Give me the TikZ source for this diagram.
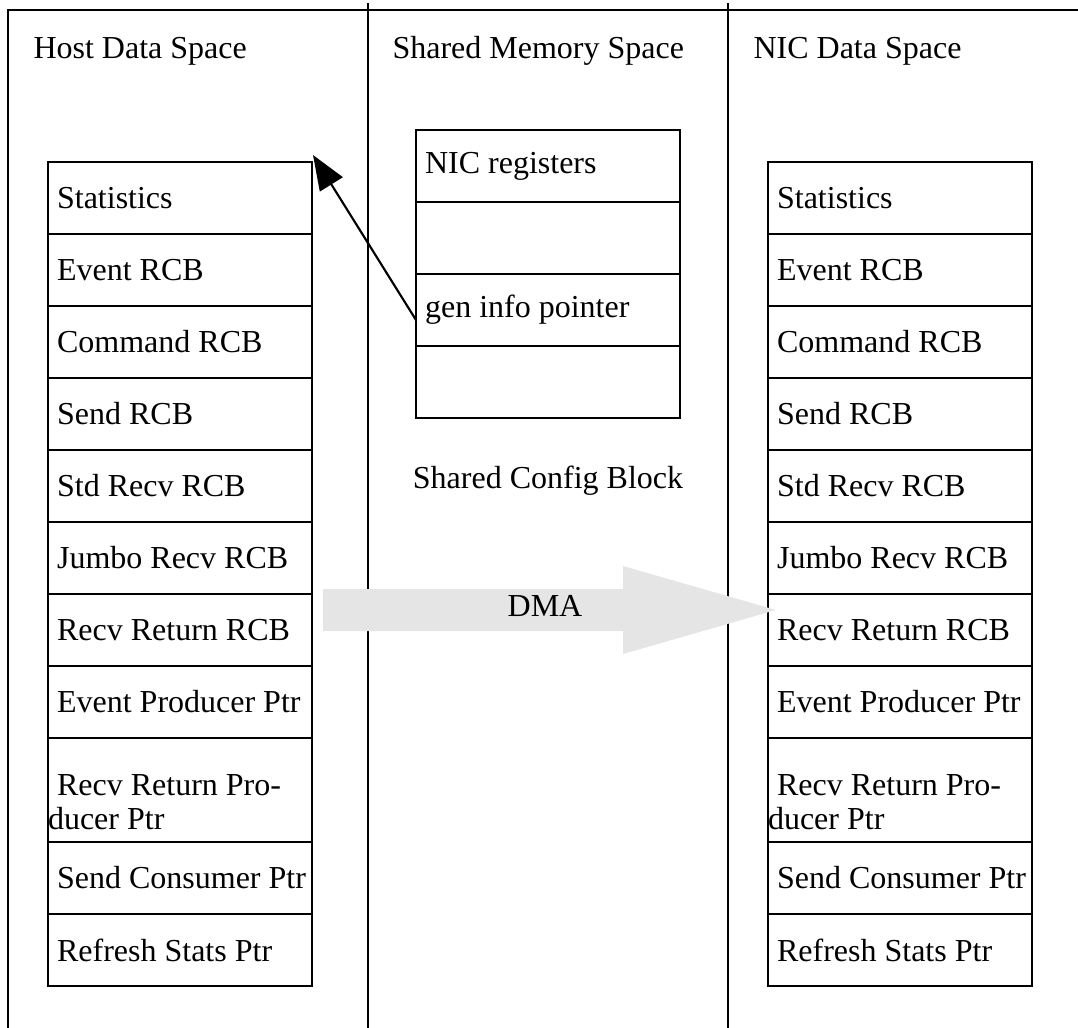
\documentclass[tikz,border=0pt]{standalone}
\usepackage{fontspec}
\setmainfont{Liberation Serif}
\usepackage{xcolor}
\usetikzlibrary{positioning}
\usetikzlibrary{arrows.meta}

\definecolor{dmagray}{gray}{0.898}

\tikzset{
  cell/.style={draw, line width=0.9pt, outer sep=0pt, inner xsep=0pt,
    minimum width=99pt, minimum height=27pt, text width=99pt, align=left,
    execute at begin node={\spaceskip=0pt\xspaceskip=0pt\hspace*{3.4pt}}},
  tallcell/.style={cell, minimum height=39pt},
  title/.style={anchor=base west, inner sep=0pt},
  wall/.style={line width=0.9pt}
}

\begin{document}
\begin{tikzpicture}[x=0.375pt, y=-0.375pt, node distance=0pt,
    every node/.style={font=\fontsize{12pt}{13pt}\selectfont}]

  \useasboundingbox (0,0) rectangle (1078,1028);

  % Frame and dividers
  \draw[wall] (8,1028) -- (8,10) -- (1078,10);
  \draw[wall] (368,3) -- (368,1028);
  \draw[wall] (728,3) -- (728,1028);

  % Titles
  \node[title] (thost) at (33,58)  {Host Data Space};
  \node[title] (tshm)  at (392,58) {Shared Memory Space};
  \node[title] (tnic)  at (753,58) {NIC Data Space};

  % Host data space
  \node[cell, anchor=north west] (hstat) at (48,162) {Statistics};
  \node[cell, below=of hstat]   (hevt)   {Event RCB};
  \node[cell, below=of hevt]    (hcmd)   {Command RCB};
  \node[cell, below=of hcmd]    (hsend)  {Send RCB};
  \node[cell, below=of hsend]   (hstd)   {Std Recv RCB};
  \node[cell, below=of hstd]    (hjumbo) {Jumbo Recv RCB};
  \node[cell, below=of hjumbo]  (hrret)  {Recv Return RCB};
  \node[cell, below=of hrret]   (hevtp)  {Event Producer Ptr};
  \node[tallcell, below=of hevtp] (hrretp) {\rule{0pt}{17pt}Recv Return Pro-\\ducer Ptr};
  \node[cell, below=of hrretp]  (hsendc) {Send Consumer Ptr};
  \node[cell, below=of hsendc]  (hrefr)  {Refresh Stats Ptr};

  % Shared config block
  \node[cell, anchor=north west] (sregs) at (416,130) {NIC registers};
  \node[cell, below=of sregs]   (sfree1) {};
  \node[cell, below=of sfree1]  (sgen)   {gen info pointer};
  \node[cell, below=of sgen]    (sfree2) {};
  \node[anchor=base] (scfg) at (548,488) {Shared Config Block};

  % NIC data space
  \node[cell, anchor=north west] (nstat) at (768,162) {Statistics};
  \node[cell, below=of nstat]   (nevt)   {Event RCB};
  \node[cell, below=of nevt]    (ncmd)   {Command RCB};
  \node[cell, below=of ncmd]    (nsend)  {Send RCB};
  \node[cell, below=of nsend]   (nstd)   {Std Recv RCB};
  \node[cell, below=of nstd]    (njumbo) {Jumbo Recv RCB};
  \node[cell, below=of njumbo]  (nrret)  {Recv Return RCB};
  \node[cell, below=of nrret]   (nevtp)  {Event Producer Ptr};
  \node[tallcell, below=of nevtp] (nrretp) {\rule{0pt}{17pt}Recv Return Pro-\\ducer Ptr};
  \node[cell, below=of nrretp]  (nsendc) {Send Consumer Ptr};
  \node[cell, below=of nsendc]  (nrefr)  {Refresh Stats Ptr};

  % Pointer to host block
  \coordinate (gtip) at (313,155);
  \draw[line width=0.8pt, -{Triangle[length=13pt,width=10pt]}]
    ([yshift=-3.75pt]sgen.west) -- (gtip);

  % DMA arrow
  \fill[dmagray] (323,589) -- (623,589) -- (623,566) -- (776,610)
    -- (623,654) -- (623,631) -- (323,631) -- cycle;
  \node[anchor=base] (dma) at (545,616) {DMA};

\end{tikzpicture}
\end{document}
